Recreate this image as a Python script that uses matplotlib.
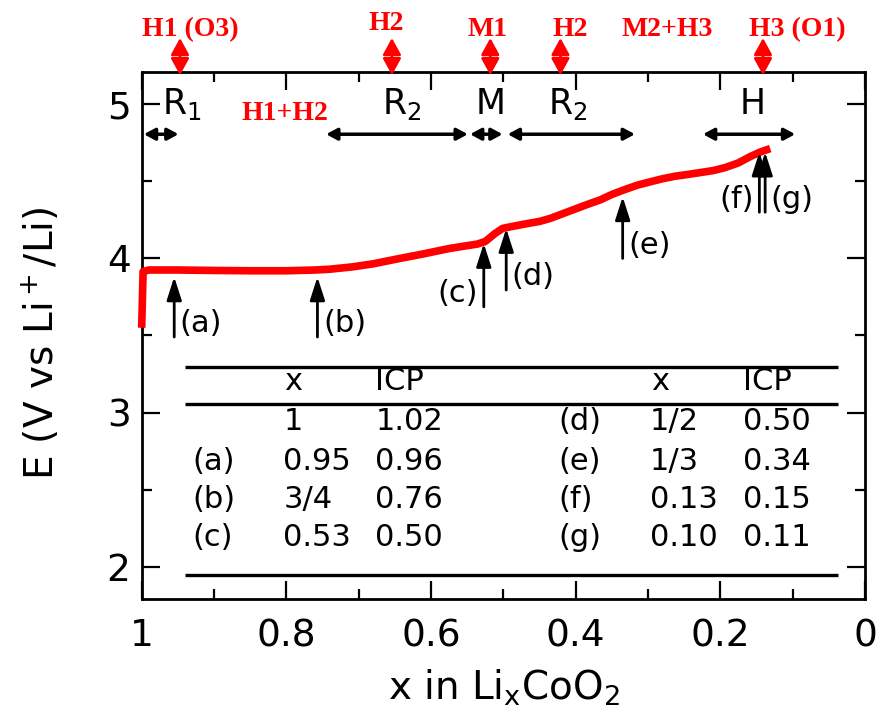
import numpy as np
import matplotlib
matplotlib.use('Agg')
import matplotlib.pyplot as plt
from matplotlib.patches import ArrowStyle

plt.rcParams['font.family'] = 'DejaVu Sans'
plt.rcParams['mathtext.default'] = 'regular'

# charge curve of LixCoO2
x_li = [1.0, 0.998, 0.99, 0.95, 0.90, 0.85, 0.80, 0.76, 0.74, 0.709, 0.68, 0.643,
        0.61, 0.574, 0.55, 0.536, 0.525, 0.512, 0.501, 0.485, 0.466, 0.45, 0.435,
        0.418, 0.401, 0.384, 0.366, 0.35, 0.332, 0.315, 0.297, 0.28, 0.263, 0.245,
        0.228, 0.21, 0.193, 0.175, 0.159, 0.145, 0.131]
e_volt = [3.55, 3.915, 3.925, 3.925, 3.922, 3.92, 3.92, 3.925, 3.93, 3.945, 3.965, 4.00,
          4.03, 4.065, 4.083, 4.093, 4.11, 4.16, 4.195, 4.21, 4.227, 4.24, 4.26,
          4.29, 4.32, 4.35, 4.38, 4.415, 4.447, 4.475, 4.497, 4.517, 4.533, 4.545,
          4.557, 4.57, 4.59, 4.62, 4.66, 4.69, 4.713]

# sample arrows (a)-(g): x, tip and tail voltage
sample_ids = ['(a)', '(b)', '(c)', '(d)', '(e)', '(f)', '(g)']
sample_x = [0.955, 0.757, 0.527, 0.496, 0.335, 0.146, 0.138]
sample_tip = [3.88, 3.88, 4.097, 4.194, 4.40, 4.69, 4.69]
sample_tail = [3.49, 3.49, 3.686, 3.795, 4.0, 4.30, 4.30]
sample_side = [1, 1, -1, 1, 1, -1, 1]

# phase regions
region_names = ['R$_1$', 'R$_2$', 'M', 'R$_2$', 'H']
region_start = [0.997, 0.745, 0.546, 0.494, 0.224]
region_end = [0.949, 0.549, 0.501, 0.318, 0.0964]
region_label_x = [0.944, 0.641, 0.518, 0.411, 0.155]

# structures
phase_names = ['H1 (O3)', 'H2', 'M1', 'H2', 'M2+H3', 'H3 (O1)']
phase_x = [0.933, 0.662, 0.522, 0.408, 0.273, 0.093]
phase_arrow_x = [0.947, 0.654, 0.518, 0.421, 0.141]

# ICP table
left_ids = ['', '(a)', '(b)', '(c)']
left_x = ['1', '0.95', '3/4', '0.53']
left_icp = ['1.02', '0.96', '0.76', '0.50']
right_ids = ['(d)', '(e)', '(f)', '(g)']
right_x = ['1/2', '1/3', '0.13', '0.10']
right_icp = ['0.50', '0.34', '0.15', '0.11']

fig = plt.figure(figsize=(8.81, 7.19), dpi=100)
ax = fig.add_axes([0.1608, 0.1669, 0.821, 0.733])

ax.plot(x_li, e_volt, color='#ff0000', lw=5.5, solid_joinstyle='round',
        solid_capstyle='butt', clip_on=False, zorder=3)

ax.set_xlim(1, 0)
ax.set_ylim(1.79, 5.21)
ax.set_xticks([1, 0.8, 0.6, 0.4, 0.2, 0])
ax.set_xticklabels(['1', '0.8', '0.6', '0.4', '0.2', '0'])
ax.set_xticks([0.9, 0.7, 0.5, 0.3, 0.1], minor=True)
ax.set_yticks([2, 3, 4, 5])
ax.set_yticks([2.5, 3.5, 4.5], minor=True)
ax.tick_params(which='both', direction='in', top=True, right=True, width=1.6)
ax.tick_params(which='major', length=13, labelsize=27)
ax.tick_params(which='minor', length=7)
ax.tick_params(axis='x', pad=14)
ax.tick_params(axis='y', pad=8)
for s in ax.spines.values():
    s.set_linewidth(2)

ax.set_xlabel('x in Li$_x$CoO$_2$', fontsize=28)
ax.set_ylabel('E (V vs Li$^+$/Li)', fontsize=28)
ax.xaxis.set_label_coords(0.501, -0.13)
ax.yaxis.set_label_coords(-0.11, 0.486)

# arrows marking samples
up = ArrowStyle('-|>', head_length=1.4, head_width=0.45)
for sid, sx, tip, tail, side in zip(sample_ids, sample_x, sample_tip, sample_tail, sample_side):
    ax.annotate('', xy=(sx, tip), xytext=(sx, tail),
                arrowprops=dict(arrowstyle=up, color='k', lw=2, mutation_scale=10,
                                shrinkA=0, shrinkB=0))
    ax.annotate(sid, xy=(sx, tail + 0.085), xytext=(4 * side, 0), textcoords='offset points',
                ha='left' if side > 0 else 'right', va='center', fontsize=22)

# phase regions at the top
both = ArrowStyle('<|-|>', head_length=0.65, head_width=0.35)
for name, x0, x1, lx in zip(region_names, region_start, region_end, region_label_x):
    ax.annotate('', xy=(x1, 4.806), xytext=(x0, 4.806),
                arrowprops=dict(arrowstyle=both, color='k', lw=2.5, mutation_scale=10,
                                shrinkA=0, shrinkB=0))
    ax.text(lx, 4.94, name, ha='center', va='baseline', fontsize=25)

# structure labels in red above the frame
red_both = ArrowStyle('<|-|>', head_length=1.0, head_width=0.55)
for ax_x in phase_arrow_x:
    ax.annotate('', xy=(ax_x, 5.19), xytext=(ax_x, 5.43),
                arrowprops=dict(arrowstyle=red_both, color='#ff0000', lw=2, mutation_scale=10,
                                shrinkA=0, shrinkB=0), annotation_clip=False)
for i, (name, px) in enumerate(zip(phase_names, phase_x)):
    y = 5.48 if i == 1 else 5.445
    ax.text(px, y, name, ha='center', va='baseline', fontsize=20, color='#ff0000',
            family='Liberation Serif', weight='bold', clip_on=False)
ax.text(0.802, 4.897, 'H1+H2', ha='center', va='baseline', fontsize=20, color='#ff0000',
        family='Liberation Serif', weight='bold')

# composition table
ax.hlines([3.297, 3.054, 1.947], 0.940, 0.037, color='k', lw=2.4)
ax.text(0.803, 3.20, 'x', ha='left', va='center', fontsize=22)
ax.text(0.677, 3.20, 'ICP', ha='left', va='center', fontsize=22)
ax.text(0.295, 3.20, 'x', ha='left', va='center', fontsize=22)
ax.text(0.168, 3.20, 'ICP', ha='left', va='center', fontsize=22)
row_y = [2.94, 2.68, 2.433, 2.187]
for i, ry in enumerate(row_y):
    ax.text(0.9295, ry, left_ids[i], ha='left', va='center', fontsize=22)
    ax.text(0.804, ry, left_x[i], ha='left', va='center', fontsize=22)
    ax.text(0.677, ry, left_icp[i], ha='left', va='center', fontsize=22)
    ax.text(0.424, ry, right_ids[i], ha='left', va='center', fontsize=22)
    ax.text(0.297, ry, right_x[i], ha='left', va='center', fontsize=22)
    ax.text(0.168, ry, right_icp[i], ha='left', va='center', fontsize=22)

fig.savefig('out.png', dpi=100)
